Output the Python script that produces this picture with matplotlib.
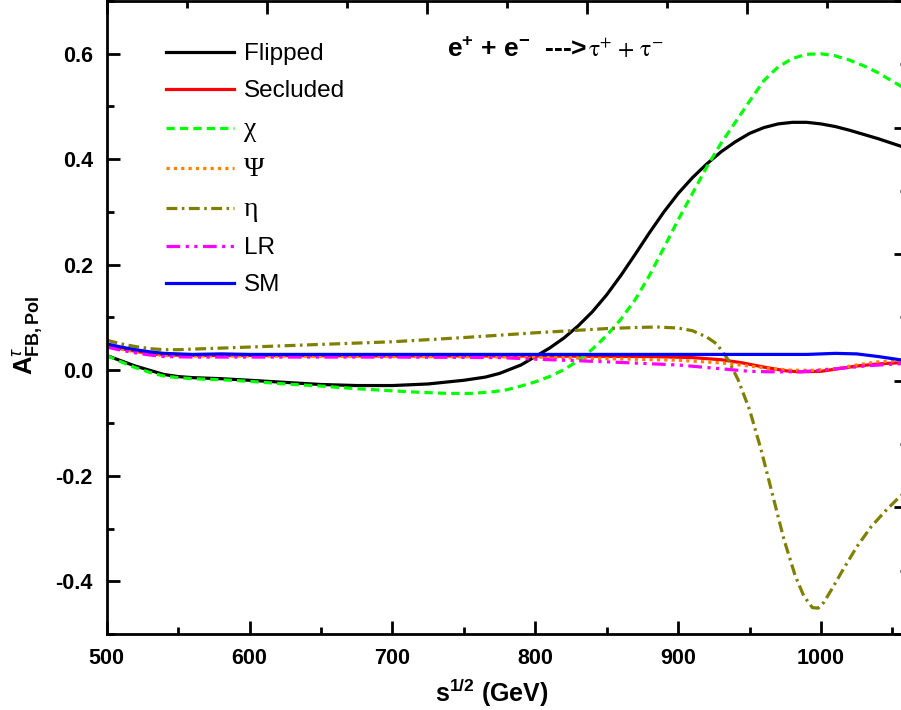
import matplotlib
matplotlib.use("Agg")
import matplotlib.pyplot as plt
from matplotlib.ticker import MultipleLocator, FormatStrFormatter

plt.rcParams['font.family'] = ['Liberation Sans', 'DejaVu Sans']
plt.rcParams['mathtext.fontset'] = 'custom'
plt.rcParams['mathtext.rm'] = 'Liberation Sans'
plt.rcParams['mathtext.bf'] = 'Liberation Sans:bold'
plt.rcParams['mathtext.it'] = 'Liberation Sans:italic'

# ---------------- data ----------------
flipped_x = [500, 510, 520, 530, 540, 550, 560, 580, 600, 625, 650, 675, 700, 725, 750, 765, 775, 790,
             800, 810, 820, 830, 840, 850, 860, 870, 880, 890, 900, 910, 920, 930, 940, 950, 960, 970,
             980, 990, 1000, 1010, 1020, 1030, 1040, 1050, 1060]
flipped_y = [0.028, 0.018, 0.008, 0.000, -0.008, -0.012, -0.014, -0.016, -0.019, -0.023, -0.027, -0.029,
             -0.029, -0.026, -0.019, -0.013, -0.006, 0.010, 0.026, 0.042, 0.061, 0.084, 0.111, 0.143,
             0.180, 0.220, 0.261, 0.300, 0.335, 0.365, 0.391, 0.414, 0.433, 0.449, 0.460, 0.467, 0.470,
             0.470, 0.467, 0.462, 0.455, 0.447, 0.439, 0.430, 0.421]

secluded_x = [500, 510, 520, 530, 540, 560, 600, 700, 800, 880, 910, 930, 945, 960, 975, 985, 1000,
              1010, 1025, 1040, 1060]
secluded_y = [0.047, 0.041, 0.036, 0.032, 0.029, 0.028, 0.028, 0.027, 0.027, 0.026, 0.024, 0.020, 0.014,
              0.006, -0.001, -0.003, -0.002, 0.002, 0.008, 0.012, 0.015]

chi_x = [500, 510, 520, 530, 540, 550, 560, 580, 600, 625, 650, 675, 700, 720, 740, 755, 770, 780, 790,
         800, 810, 820, 830, 840, 850, 860, 870, 880, 890, 900, 910, 920, 930, 940, 950, 960, 970, 980,
         990, 1000, 1010, 1020, 1030, 1040, 1050, 1060]
chi_y = [0.028, 0.016, 0.005, -0.004, -0.011, -0.014, -0.016, -0.018, -0.021, -0.026, -0.030, -0.035,
         -0.039, -0.042, -0.044, -0.044, -0.041, -0.037, -0.030, -0.022, -0.012, 0.001, 0.018, 0.040,
         0.066, 0.097, 0.134, 0.180, 0.232, 0.285, 0.335, 0.385, 0.430, 0.470, 0.510, 0.549, 0.575,
         0.591, 0.599, 0.600, 0.596, 0.588, 0.577, 0.564, 0.548, 0.532]

psi_x = [500, 510, 520, 530, 540, 560, 600, 700, 800, 850, 900, 930, 950, 965, 980, 995, 1010, 1025,
         1040, 1060]
psi_y = [0.046, 0.040, 0.035, 0.031, 0.028, 0.027, 0.027, 0.026, 0.025, 0.022, 0.019, 0.014, 0.008,
         0.003, 0.000, 0.000, 0.003, 0.010, 0.016, 0.019]

eta_x = [500, 510, 520, 530, 540, 550, 560, 580, 600, 650, 700, 750, 800, 850, 870, 885, 900, 910, 920,
         927, 935, 942, 950, 958, 966, 974, 982, 988, 994, 998, 1002, 1008, 1015, 1025, 1035, 1045,
         1055, 1060]
eta_y = [0.057, 0.050, 0.045, 0.041, 0.039, 0.039, 0.040, 0.042, 0.044, 0.049, 0.054, 0.062, 0.071,
         0.079, 0.081, 0.082, 0.080, 0.075, 0.063, 0.050, 0.020, -0.018, -0.075, -0.150, -0.235,
         -0.320, -0.390, -0.428, -0.450, -0.451, -0.440, -0.413, -0.380, -0.335, -0.297, -0.267,
         -0.240, -0.228]

lr_x = [500, 510, 520, 530, 540, 560, 600, 700, 775, 800, 850, 900, 925, 950, 965, 985, 1000, 1015,
        1035, 1060]
lr_y = [0.044, 0.038, 0.033, 0.029, 0.026, 0.025, 0.025, 0.025, 0.024, 0.021, 0.016, 0.010, 0.004,
        -0.002, -0.003, -0.003, 0.000, 0.004, 0.009, 0.013]

sm_x = [500, 510, 520, 530, 540, 560, 580, 600, 700, 800, 900, 960, 990, 1010, 1025, 1040, 1060]
sm_y = [0.050, 0.044, 0.039, 0.035, 0.032, 0.030, 0.031, 0.030, 0.030, 0.030, 0.030, 0.030, 0.030,
        0.032, 0.031, 0.026, 0.018]

labels = ['Flipped', 'Secluded', 'χ', 'Ψ', 'η', 'LR', 'SM']
x_ticks = [500, 600, 700, 800, 900, 1000]

# ---------------- figure ----------------
W, H = 901, 710
fig = plt.figure(figsize=(W / 100, H / 100), dpi=100)
left_px, right_px, top_px, bot_px = 106.7, 906.7, 1.0, 634.0
pos = [left_px / W, 1 - bot_px / H, (right_px - left_px) / W, (bot_px - top_px) / H]
ax = fig.add_axes(pos)

lw = 2.3
ax.plot(flipped_x, flipped_y, color='black', lw=lw, label=labels[0])
ax.plot(secluded_x, secluded_y, color='#ff0000', lw=lw, label=labels[1])
ax.plot(chi_x, chi_y, color='#00ff00', lw=lw, dashes=(2.6, 1.6), label=labels[2])
ax.plot(psi_x, psi_y, color='#ff8000', lw=lw, dashes=(1.0, 1.3), label=labels[3])
ax.plot(eta_x, eta_y, color='#808000', lw=lw, dashes=(3.4, 1.4, 0.8, 1.4), label=labels[4])
ax.plot(lr_x, lr_y, color='#ff00ff', lw=lw, dashes=(4.3, 1.7, 1.0, 1.7, 1.0, 1.7), label=labels[5])
ax.plot(sm_x, sm_y, color='#0000ff', lw=lw, label=labels[6])

ax.set_xlim(500, 1060)
ax.set_ylim(-0.5, 0.7)
ax.set_xticks(x_ticks)
ax.xaxis.set_minor_locator(MultipleLocator(50))
ax.yaxis.set_major_locator(MultipleLocator(0.2))
ax.yaxis.set_minor_locator(MultipleLocator(0.1))
ax.yaxis.set_major_formatter(FormatStrFormatter('%.1f'))
ax.tick_params(which='both', direction='in', width=2.0, top=False, right=False)
ax.tick_params(which='major', length=9.5, labelsize=15.5, pad=10)
ax.tick_params(which='minor', length=5)
for lab in ax.get_xticklabels() + ax.get_yticklabels():
    lab.set_fontweight('bold')
for s in ax.spines.values():
    s.set_linewidth(2.0)

# top / right tick frame (independent tick scale, no labels)
ax2 = fig.add_axes(pos, frameon=False)
ax2.set_xlim(0, 1)
ax2.set_ylim(0, 1)
ax2.xaxis.set_major_locator(MultipleLocator(0.2))
ax2.xaxis.set_minor_locator(MultipleLocator(0.1))
ax2.yaxis.set_major_locator(MultipleLocator(0.2))
ax2.yaxis.set_minor_locator(MultipleLocator(0.1))
ax2.tick_params(which='both', direction='in', width=2.0, top=True, right=True, bottom=False,
                left=False, labeltop=False, labelright=False, labelbottom=False, labelleft=False)
ax2.tick_params(which='major', length=9.5)
ax2.tick_params(which='minor', length=5)
ax2.patch.set_visible(False)

# labels
ax.set_xlabel(r'$\mathbf{s^{1/2}}$ (GeV)', fontsize=18, fontweight='bold', va='center')
ax.xaxis.set_label_coords((492 - left_px) / 800, -(693 - bot_px) / 633)
ax.set_ylabel(r'$\mathbf{A}^{\tau}_{\mathbf{FB,Pol}}$', fontsize=18.5, va='center')
ax.yaxis.set_label_coords((29 - left_px) / 800, 1 - (335 - top_px) / 633)

# reaction text
t1 = fig.text(447 / W, 1 - 57 / H, r'$\mathbf{e}^{\mathbf{+}}$ + $\mathbf{e}^{\mathbf{-}}$  --->',
              fontsize=19, fontweight='bold', va='baseline', ha='left')
fig.canvas.draw()
bb = t1.get_window_extent()
fig.text((bb.x1 + 1) / W, 1 - 57 / H, r'$\mathrm{\tau}^{+}\ {+}\ \mathrm{\tau}^{-}$', fontsize=17,
         math_fontfamily='stix', va='baseline', ha='left')

leg = ax.legend(loc='upper left', bbox_to_anchor=((166 - left_px) / 800, 1 - (43 - top_px) / 633),
                frameon=False, fontsize=17.5, handlelength=2.8, handletextpad=0.4,
                labelspacing=0.62, borderpad=0, borderaxespad=0)
for t in leg.get_texts()[2:5]:
    t.set_family(['Liberation Serif', 'DejaVu Serif'])
    t.set_fontsize(20)

fig.savefig('out.png', dpi=100)
